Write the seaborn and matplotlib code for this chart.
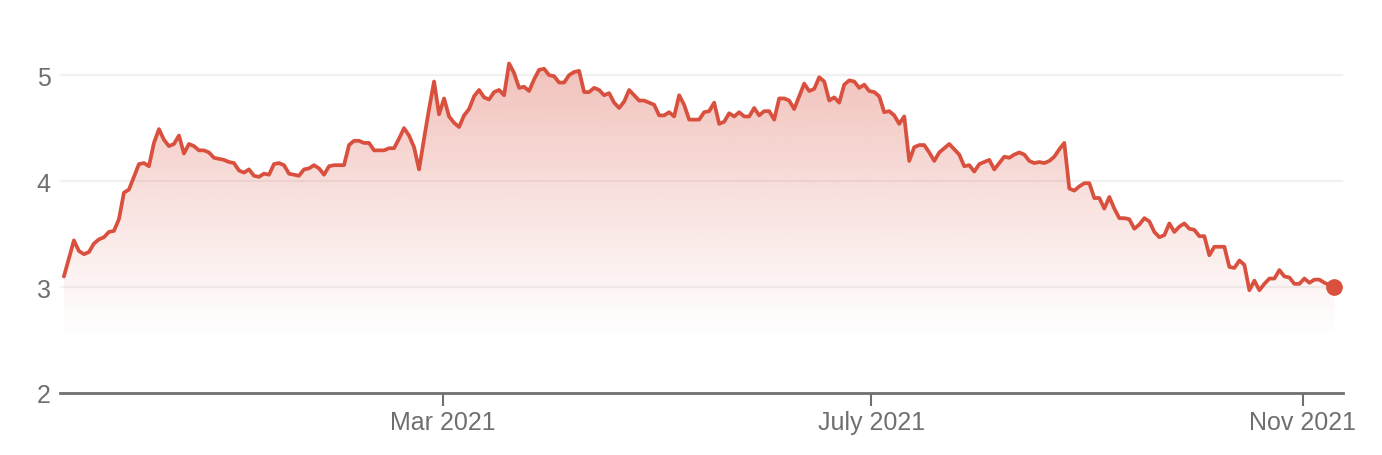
import numpy as np
import pandas as pd
import matplotlib
matplotlib.use("Agg")
import matplotlib.pyplot as plt
import matplotlib.dates as mdates
import seaborn as sns

# closing values, one per sample (Nov 2020 -> Nov 2021)
prices_winter = [3.10, 3.27, 3.44, 3.34, 3.31, 3.33, 3.41, 3.45, 3.47, 3.52,
                 3.53, 3.64, 3.89, 3.92, 4.04, 4.16, 4.17, 4.14, 4.36, 4.49,
                 4.39, 4.33, 4.35, 4.43, 4.26, 4.35, 4.33, 4.29, 4.29, 4.27,
                 4.22, 4.21, 4.20, 4.18, 4.17, 4.10, 4.08, 4.11, 4.05, 4.04,
                 4.07, 4.06, 4.16, 4.17, 4.15, 4.07, 4.06, 4.05, 4.11, 4.12,
                 4.15, 4.12, 4.06, 4.14, 4.15, 4.15, 4.15, 4.34, 4.38, 4.38,
                 4.36, 4.36, 4.29, 4.29, 4.29, 4.31, 4.31, 4.40, 4.50, 4.43,
                 4.32, 4.11, 4.40, 4.68, 4.94, 4.63, 4.78, 4.61, 4.55, 4.51]
prices_spring = [4.62, 4.68, 4.80, 4.86, 4.79, 4.77, 4.84, 4.86, 4.81, 5.11,
                 5.02, 4.88, 4.89, 4.85, 4.96, 5.05, 5.06, 5.00, 4.99, 4.93,
                 4.93, 5.00, 5.03, 5.04, 4.84, 4.84, 4.88, 4.86, 4.81, 4.83,
                 4.74, 4.69, 4.75, 4.86, 4.81, 4.76, 4.76, 4.74, 4.72, 4.62,
                 4.62, 4.65, 4.61, 4.81, 4.72, 4.58, 4.58, 4.58, 4.65, 4.66,
                 4.74, 4.54, 4.56, 4.64, 4.61, 4.65, 4.61, 4.61, 4.69, 4.62,
                 4.66, 4.66, 4.58, 4.78, 4.78, 4.76, 4.68, 4.80, 4.92, 4.85,
                 4.87, 4.98, 4.94, 4.76, 4.79, 4.74, 4.91, 4.95, 4.94, 4.88,
                 4.91, 4.85, 4.84, 4.80, 4.65, 4.66, 4.62, 4.54]
prices_autumn = [4.61, 4.19, 4.32, 4.34, 4.34, 4.27, 4.19, 4.27, 4.31, 4.35,
                 4.30, 4.25, 4.14, 4.15, 4.09, 4.16, 4.18, 4.20, 4.11, 4.17,
                 4.23, 4.22, 4.25, 4.27, 4.25, 4.19, 4.17, 4.18, 4.17, 4.19,
                 4.23, 4.30, 4.36, 3.93, 3.91, 3.95, 3.98, 3.98, 3.84, 3.84,
                 3.74, 3.85, 3.74, 3.65, 3.65, 3.64, 3.55, 3.59, 3.65, 3.62,
                 3.52, 3.47, 3.49, 3.60, 3.52, 3.57, 3.60, 3.55, 3.54, 3.48,
                 3.48, 3.30, 3.38, 3.38, 3.38, 3.19, 3.18, 3.25, 3.21, 2.97,
                 3.06, 2.97, 3.03, 3.08, 3.08, 3.16, 3.10, 3.09, 3.03, 3.03,
                 3.08, 3.04, 3.07, 3.07, 3.04, 3.02, 3.00]

first_day = "2020-11-13"
last_day = "2021-11-10"
tick_dates = ["2021-03-01", "2021-07-01", "2021-11-01"]
tick_labels = ["Mar 2021", "July 2021", "Nov 2021"]
y_ticks = [2, 3, 4, 5]

LINE = "#d9503f"
TEXT = "#6f6f6f"

prices = prices_winter + prices_spring + prices_autumn
dates = pd.date_range(first_day, last_day, periods=len(prices))
df = pd.DataFrame({"date": dates, "price": prices})

sns.set_style("white")
plt.rcParams["font.family"] = ["Liberation Sans", "DejaVu Sans"]

fig = plt.figure(figsize=(13.82, 4.56), dpi=100)
ax = fig.add_axes([0.0437, 0.136, 0.928, 0.79])

sns.lineplot(data=df, x="date", y="price", color=LINE, linewidth=2.7, ax=ax, zorder=3)
ax.plot(df["date"].iloc[-1], df["price"].iloc[-1], "o", color=LINE, ms=11, zorder=4)

# gradient fill under the line
ymin, ymax = 2, 5.4
poly = ax.fill_between(df["date"], df["price"], ymin, facecolor="none", edgecolor="none")
yy = np.linspace(ymin, ymax, 300)
alpha = np.clip((yy - 2.5) / (5.2 - 2.5), 0, 1) ** 1.1 * 0.37
rgba = np.zeros((len(yy), 1, 4))
rgba[..., 0], rgba[..., 1], rgba[..., 2] = 217 / 255, 80 / 255, 63 / 255
rgba[..., 3] = alpha[:, None]
x0 = mdates.date2num(df["date"].iloc[0])
x1 = mdates.date2num(df["date"].iloc[-1])
im = ax.imshow(rgba, aspect="auto", origin="lower", extent=[x0, x1, ymin, ymax], zorder=2)
im.set_clip_path(poly.get_paths()[0], transform=ax.transData)

ax.set_xlim(pd.Timestamp("2020-11-12"), pd.Timestamp("2021-11-12 10:00"))
ax.set_ylim(ymin, ymax)

ax.set_xticks(pd.to_datetime(tick_dates))
ax.set_xticklabels(tick_labels)
ax.set_yticks(y_ticks)
ax.set_yticklabels([str(v) for v in y_ticks])
ax.set_xlabel("")
ax.set_ylabel("")

ax.grid(axis="y", color="#f1f1f1", linewidth=1.6)
ax.set_axisbelow(True)
for s in ["top", "right", "left"]:
    ax.spines[s].set_visible(False)
ax.spines["bottom"].set_color("#707070")
ax.spines["bottom"].set_linewidth(2)

ax.tick_params(axis="x", length=9, width=1.5, color="#707070", pad=3,
               labelsize=18, labelcolor=TEXT, direction="out", bottom=True)
ax.tick_params(axis="y", length=0, pad=7, labelsize=18, labelcolor=TEXT)

plt.savefig("out.png", dpi=100)
plt.close()
